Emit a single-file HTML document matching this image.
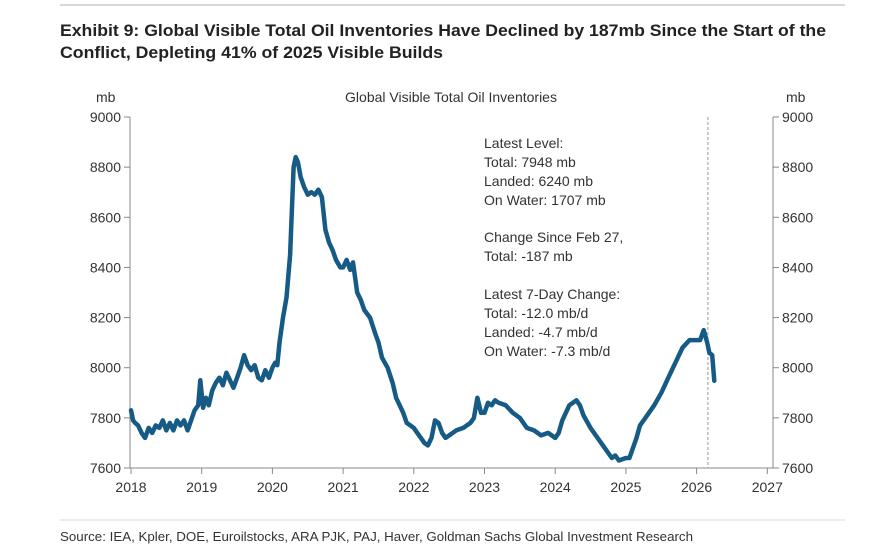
<!DOCTYPE html>
<html><head><meta charset="utf-8"><style>
html,body{margin:0;padding:0;background:#fff;}
svg{display:block;font-family:"Liberation Sans",Arial,sans-serif;}
</style></head><body>
<svg id="chart" width="886" height="551" viewBox="0 0 886 551" xmlns="http://www.w3.org/2000/svg">
<line x1="60" y1="5" x2="845" y2="5" stroke="#d8d8d8" stroke-width="2"/>
<text x="60" y="36" font-size="17" font-weight="bold" fill="#222" textLength="766" lengthAdjust="spacingAndGlyphs">Exhibit 9: Global Visible Total Oil Inventories Have Declined by 187mb Since the Start of the</text>
<text x="60" y="58" font-size="17" font-weight="bold" fill="#222" textLength="383" lengthAdjust="spacingAndGlyphs">Conflict, Depleting 41% of 2025 Visible Builds</text>
<text x="451" y="102" font-size="14" fill="#333" text-anchor="middle">Global Visible Total Oil Inventories</text>
<text x="96" y="102" font-size="14" fill="#333">mb</text>
<text x="786" y="102" font-size="14" fill="#333">mb</text>
<g id="axes"></g>
<line id="marker" stroke="#999" stroke-width="1" stroke-dasharray="3,2"/>
<path id="series" fill="none" stroke="#165a86" stroke-width="4.5" stroke-linejoin="round" stroke-linecap="round"/>
<g font-size="14" fill="#333">
<text x="484" y="148">Latest Level:</text>
<text x="484" y="167">Total: 7948 mb</text>
<text x="484" y="186">Landed: 6240 mb</text>
<text x="484" y="205">On Water: 1707 mb</text>
<text x="484" y="242">Change Since Feb 27,</text>
<text x="484" y="261">Total: -187 mb</text>
<text x="484" y="299">Latest 7-Day Change:</text>
<text x="484" y="318">Total: -12.0 mb/d</text>
<text x="484" y="337">Landed: -4.7 mb/d</text>
<text x="484" y="356">On Water: -7.3 mb/d</text>
</g>
<line x1="60" y1="520" x2="845" y2="520" stroke="#d8d8d8" stroke-width="1"/>
<text x="60" y="541" font-size="13" fill="#333" textLength="633" lengthAdjust="spacingAndGlyphs">Source: IEA, Kpler, DOE, Euroilstocks, ARA PJK, PAJ, Haver, Goldman Sachs Global Investment Research</text>
</svg>
<script>
const yearTicks=[2018,2019,2020,2021,2022,2023,2024,2025,2026,2027];
const valueTicks=[7600,7800,8000,8200,8400,8600,8800,9000];
const markerDate=2026.16;
const dates=[2018.0,2018.03,2018.06,2018.1,2018.15,2018.2,2018.25,2018.3,2018.35,2018.4,2018.45,2018.5,2018.55,2018.6,2018.65,2018.7,2018.75,2018.8,2018.85,2018.9,2018.95,2018.98,2019.02,2019.06,2019.1,2019.15,2019.2,2019.25,2019.3,2019.35,2019.4,2019.45,2019.5,2019.55,2019.6,2019.65,2019.7,2019.75,2019.8,2019.85,2019.9,2019.95,2020.0,2020.04,2020.07,2020.1,2020.15,2020.2,2020.25,2020.3,2020.33,2020.36,2020.4,2020.45,2020.5,2020.55,2020.6,2020.65,2020.7,2020.75,2020.8,2020.85,2020.9,2020.96,2021.0,2021.05,2021.1,2021.14,2021.2,2021.25,2021.3,2021.38,2021.45,2021.5,2021.55,2021.63,2021.7,2021.75,2021.8,2021.85,2021.9,2021.95,2022.0,2022.05,2022.1,2022.15,2022.2,2022.25,2022.3,2022.35,2022.4,2022.45,2022.5,2022.55,2022.6,2022.7,2022.75,2022.8,2022.85,2022.9,2022.95,2023.0,2023.05,2023.1,2023.15,2023.2,2023.3,2023.4,2023.5,2023.6,2023.7,2023.8,2023.9,2024.0,2024.05,2024.1,2024.2,2024.3,2024.35,2024.4,2024.5,2024.6,2024.7,2024.8,2024.85,2024.9,2025.0,2025.05,2025.1,2025.15,2025.2,2025.3,2025.4,2025.5,2025.6,2025.7,2025.8,2025.9,2026.0,2026.05,2026.1,2026.15,2026.18,2026.22,2026.25,2026.27];
const values=[7830,7790,7780,7770,7740,7720,7760,7740,7770,7760,7790,7750,7780,7750,7790,7770,7790,7750,7790,7830,7850,7950,7840,7880,7850,7910,7940,7960,7930,7980,7950,7920,7960,8000,8050,8010,7990,8010,7960,7950,7990,7960,8000,8020,8010,8100,8200,8280,8450,8800,8840,8820,8760,8720,8690,8700,8690,8710,8680,8550,8500,8470,8430,8400,8400,8430,8390,8420,8300,8270,8230,8200,8140,8100,8040,8000,7940,7880,7850,7820,7780,7770,7760,7740,7720,7700,7690,7720,7790,7780,7740,7720,7730,7740,7750,7760,7770,7780,7800,7880,7820,7820,7860,7850,7870,7860,7850,7820,7800,7760,7750,7730,7740,7720,7740,7790,7850,7870,7850,7810,7760,7720,7680,7640,7650,7630,7640,7640,7680,7720,7770,7810,7850,7900,7960,8020,8080,8110,8110,8110,8150,8100,8060,8050,7948];
const X0=131,PXY=70.7,Y0=468,PXV=(468-117)/1400;
function xs(d){return X0+(d-2018)*PXY;}
function ys(v){return Y0-(v-7600)*PXV;}
const NS='http://www.w3.org/2000/svg';
const axes=document.getElementById('axes');
function el(tag,attrs,txt){const e=document.createElementNS(NS,tag);for(const k in attrs)e.setAttribute(k,attrs[k]);if(txt!==undefined)e.textContent=txt;axes.appendChild(e);return e;}
let a=el('line',{x1:130,y1:117,x2:130,y2:468,stroke:'#888','stroke-width':1});


a=el('line',{x1:773,y1:117,x2:773,y2:468,stroke:'#888','stroke-width':1});


a=el('line',{x1:130,y1:468,x2:773,y2:468,stroke:'#888','stroke-width':1});


valueTicks.forEach(v=>{const y=ys(v);
el('line',{x1:124,y1:y,x2:130,y2:y,stroke:'#888'});
el('line',{x1:773,y1:y,x2:779,y2:y,stroke:'#888'});
let t=el('text',{x:121,y:y+5,'font-size':14,fill:'#333','text-anchor':'end'},String(v));


t=el('text',{x:782,y:y+5,'font-size':14,fill:'#333'},String(v));

});
yearTicks.forEach(d=>{const x=xs(d);
el('line',{x1:x,y1:468,x2:x,y2:474,stroke:'#888'});
const t=el('text',{x:x,y:492,'font-size':14,fill:'#333','text-anchor':'middle'},String(d));

});
const m=document.getElementById('marker');
m.setAttribute('x1',xs(markerDate));m.setAttribute('x2',xs(markerDate));m.setAttribute('y1',117);m.setAttribute('y2',468);
document.getElementById('series').setAttribute('d',dates.map((d,i)=>(i?'L':'M')+xs(d).toFixed(1)+','+ys(values[i]).toFixed(1)).join(''));
</script>
</body></html>
